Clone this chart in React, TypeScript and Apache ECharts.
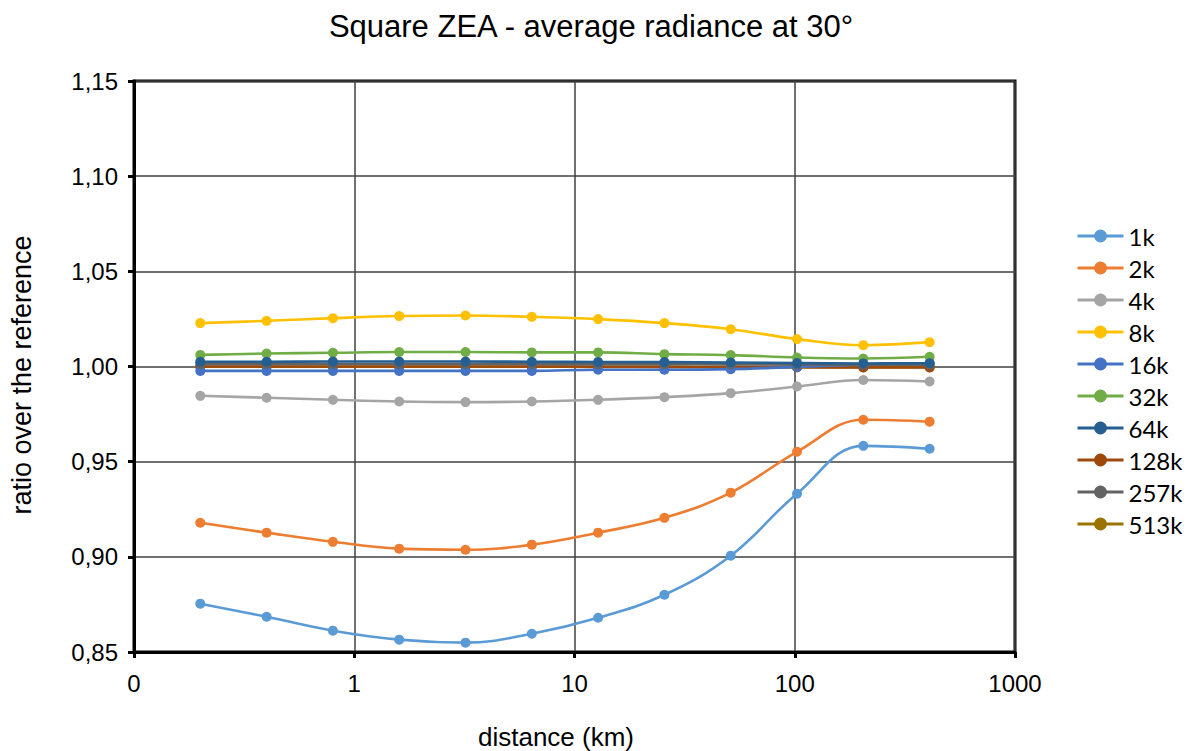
import React, { useEffect, useRef } from "react";
import * as echarts from "echarts";

// Distances (km) at which the radiance ratio was sampled
const distances = [0.2, 0.4, 0.8, 1.6, 3.2, 6.4, 12.8, 25.6, 51.2, 102.4, 204.8, 409.6];

// Ratio over the reference, one list per grid resolution
const r1k = [0.8754, 0.8685, 0.8612, 0.8565, 0.8549, 0.8596, 0.868, 0.8801, 0.9006, 0.9332, 0.9583, 0.9568];
const r2k = [0.9179, 0.9127, 0.9079, 0.9043, 0.9037, 0.9064, 0.9127, 0.9205, 0.9337, 0.9552, 0.972, 0.971];
const r4k = [0.9846, 0.9836, 0.9825, 0.9816, 0.9813, 0.9816, 0.9825, 0.9839, 0.986, 0.9895, 0.9929, 0.9921];
const r8k = [1.0228, 1.024, 1.0254, 1.0265, 1.0268, 1.0261, 1.0249, 1.0228, 1.0196, 1.0144, 1.0112, 1.0128];
const r16k = [0.9977, 0.9977, 0.9977, 0.9977, 0.9977, 0.9977, 0.9983, 0.9983, 0.9986, 0.9998, 1.0009, 1.0016];
const r32k = [1.0061, 1.0068, 1.0072, 1.0076, 1.0076, 1.0074, 1.0074, 1.0065, 1.006, 1.0047, 1.0042, 1.0051];
const r64k = [1.0025, 1.0025, 1.0026, 1.0026, 1.0026, 1.0025, 1.0024, 1.0023, 1.0021, 1.0018, 1.0016, 1.0017];
const r128k = [1.0, 1.0, 1.0, 1.0, 1.0, 1.0, 0.9999, 0.9998, 0.9997, 0.9996, 0.9995, 0.9995];
const r257k = [1.0013, 1.0013, 1.0013, 1.0013, 1.0013, 1.0013, 1.0012, 1.0012, 1.0011, 1.001, 1.001, 1.001];
const r513k = [0.9999, 0.9999, 0.9999, 0.9999, 0.9999, 0.9999, 0.9998, 0.9998, 0.9997, 0.9996, 0.9996, 0.9996];

const seriesNames = ["1k", "2k", "4k", "8k", "16k", "32k", "64k", "128k", "257k", "513k"];
const seriesValues = [r1k, r2k, r4k, r8k, r16k, r32k, r64k, r128k, r257k, r513k];
const seriesColors = [
  "#5B9BD5", "#ED7D31", "#A5A5A5", "#FFC000", "#4472C4",
  "#70AD47", "#255E91", "#9E480E", "#636363", "#997300",
];
// Stacking order of the lines around 1,00 (higher is drawn on top)
const seriesZ = [2, 2, 2, 2, 4, 2, 5, 3, 4, 1];

const titleText = "Square ZEA - average radiance at 30°";
const xName = "distance (km)";
const yName = "ratio over the reference";

const ARIAL = "'Liberation Sans', Arial, sans-serif";

export default function App() {
  const ref = useRef<HTMLDivElement>(null);

  useEffect(() => {
    if (!ref.current) return;
    const chart = echarts.init(ref.current, undefined, { renderer: "svg" });

    const series = seriesNames.map((name, i) => ({
      name,
      type: "line",
      z: seriesZ[i],
      data: distances.map((d, j) => [d, seriesValues[i][j]]),
      smooth: 0.4,
      symbol: "circle",
      symbolSize: 10,
      showSymbol: true,
      color: seriesColors[i],
      lineStyle: { width: 2.6, color: seriesColors[i] },
      itemStyle: { color: seriesColors[i] },
      emphasis: { disabled: true },
    }));

    chart.setOption({
      animation: false,
      backgroundColor: "#ffffff",
      grid: {
        left: 134,
        right: 180,
        top: 81,
        bottom: 99,
        show: true,
        borderColor: "#000000",
        borderWidth: 3,
        backgroundColor: "transparent",
      },
      legend: {
        orient: "vertical",
        left: 1071,
        top: 219,
        itemWidth: 46,
        itemHeight: 16,
        itemGap: 8,
        lineStyle: { width: 3 },
        textStyle: { fontFamily: "Lato, 'Open Sans', sans-serif", fontSize: 24, color: "#000" },
        data: seriesNames,
      },
      xAxis: {
        type: "log",
        logBase: 10,
        min: 0.1,
        max: 1000,
        axisLine: { show: true, lineStyle: { color: "#000", width: 3 } },
        axisTick: { show: true, inside: false, length: 6, lineStyle: { color: "#000", width: 3 } },
        minorTick: { show: false },
        axisLabel: {
          margin: 19,
          fontFamily: ARIAL,
          fontSize: 24,
          color: "#000",
          formatter: (v: number) => (v < 0.5 ? "0" : String(Math.round(v))),
        },
        splitLine: { show: true, lineStyle: { color: "#404040", width: 1.5 } },
      },
      yAxis: {
        type: "value",
        min: 0.85,
        max: 1.15,
        interval: 0.05,
        axisLine: { show: true, lineStyle: { color: "#000", width: 3 } },
        axisTick: { show: true, inside: false, length: 6, lineStyle: { color: "#000", width: 3 } },
        axisLabel: {
          margin: 16,
          fontFamily: ARIAL,
          fontSize: 24,
          color: "#000",
          formatter: (v: number) => v.toFixed(2).replace(".", ","),
        },
        splitLine: { show: true, lineStyle: { color: "#404040", width: 1.5 } },
      },
      graphic: [
        {
          type: "text",
          x: 591,
          y: 26,
          style: { text: titleText, font: `31px ${ARIAL}`, fill: "#000", align: "center", verticalAlign: "middle" },
        },
        {
          type: "text",
          x: 556,
          y: 737,
          style: { text: xName, font: `26px ${ARIAL}`, fill: "#000", align: "center", verticalAlign: "middle" },
        },
        {
          type: "text",
          x: 22,
          y: 375,
          rotation: Math.PI / 2,
          style: { text: yName, font: `27px ${ARIAL}`, fill: "#000", align: "center", verticalAlign: "middle" },
        },
      ],
      series,
    });

    return () => chart.dispose();
  }, []);

  return (
    <div
      ref={ref}
      style={{ position: "fixed", left: 0, top: 0, width: 1195, height: 751, background: "#fff" }}
    />
  );
}
